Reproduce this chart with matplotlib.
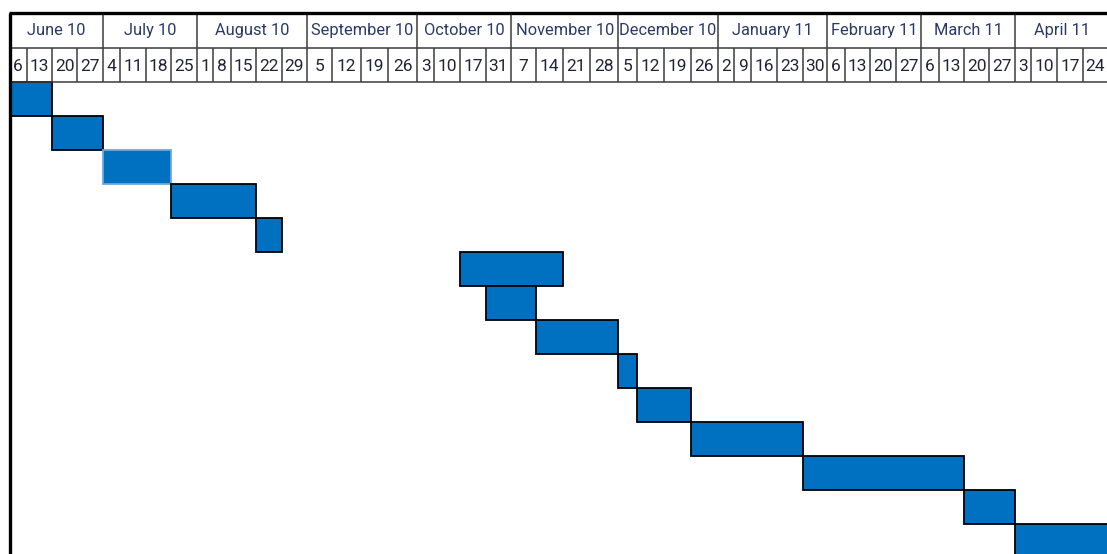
import matplotlib
matplotlib.use("Agg")
import matplotlib.pyplot as plt

# ---- data -------------------------------------------------------------
months = ["June 10", "July 10", "August 10", "September 10", "October 10",
          "November 10", "December 10", "January 11", "February 11",
          "March 11", "April 11"]
weeks_per_month = [4, 4, 5, 4, 4, 4, 4, 5, 4, 4, 4]

week_starts = [
    "2010-06-06", "2010-06-13", "2010-06-20", "2010-06-27",
    "2010-07-04", "2010-07-11", "2010-07-18", "2010-07-25",
    "2010-08-01", "2010-08-08", "2010-08-15", "2010-08-22", "2010-08-29",
    "2010-09-05", "2010-09-12", "2010-09-19", "2010-09-26",
    "2010-10-03", "2010-10-10", "2010-10-17", "2010-10-31",
    "2010-11-07", "2010-11-14", "2010-11-21", "2010-11-28",
    "2010-12-05", "2010-12-12", "2010-12-19", "2010-12-26",
    "2011-01-02", "2011-01-09", "2011-01-16", "2011-01-23", "2011-01-30",
    "2011-02-06", "2011-02-13", "2011-02-20", "2011-02-27",
    "2011-03-06", "2011-03-13", "2011-03-20", "2011-03-27",
    "2011-04-03", "2011-04-10", "2011-04-17", "2011-04-24",
]
week_labels = [str(int(d[-2:])) for d in week_starts]

task_first_week = ["2010-06-06", "2010-06-20", "2010-07-04", "2010-07-25",
                   "2010-08-22", "2010-10-17", "2010-10-31", "2010-11-14",
                   "2010-12-05", "2010-12-12", "2010-12-26", "2011-01-30",
                   "2011-03-20", "2011-04-03"]
task_last_week = ["2010-06-13", "2010-06-27", "2010-07-18", "2010-08-15",
                  "2010-08-22", "2010-11-14", "2010-11-07", "2010-11-28",
                  "2010-12-05", "2010-12-19", "2011-01-23", "2011-03-13",
                  "2011-03-27", "2011-04-24"]

# ---- sheet layout (column widths in pixels, like a spreadsheet) -------
col_widths = [17.2, 25, 25.6, 25.4, 17.3, 25.7, 25, 26, 16.6, 17.4, 25.3,
              25.7, 25, 25.6, 28.4, 27.6, 29, 17, 25.7, 25.7, 25.3, 25, 26.7,
              27.3, 28.3, 19, 26.7, 26.7, 27, 16.6, 16.7, 25.7, 26, 24.3, 17.7,
              25.6, 25.7, 25.3, 17.4, 25, 25.6, 26, 16, 25.7, 25.7, 25.4]
x_left = 9.5
edges = [x_left]
for w in col_widths:
    edges.append(edges[-1] + w)

W, H = 1107, 554
ROW_PX = 34.0
TOP_PX = 81.7

bar_color = "#0070C0"
grid_color = "#3c3c3c"
text_color = "#1f2636"
month_color = "#2a3a68"

plt.rcParams["font.family"] = ["Roboto", "DejaVu Sans"]

fig = plt.figure(figsize=(W / 100, H / 100), dpi=100)
ax = fig.add_axes([0, 0, 1, 1])
ax.set_xlim(0, W)
ax.set_ylim((H - TOP_PX) / ROW_PX, -TOP_PX / ROW_PX)
ax.axis("off")

# ---- task bars ----------------------------------------------------------
for row, (a, b) in enumerate(zip(task_first_week, task_last_week)):
    i0 = week_starts.index(a)
    i1 = week_starts.index(b)
    ec = "#6fa8dc" if row == 2 else "black"
    ax.barh(row, edges[i1 + 1] - edges[i0], left=edges[i0], height=1.0,
            align="edge", color=bar_color, edgecolor=ec, linewidth=1.3,
            zorder=2)

# ---- header grid ------------------------------------------------------
right = W + 5
top = -2.03
ax.hlines([-1, 0], x_left, right, color=grid_color, lw=1.1, zorder=3)
ax.hlines(top, x_left - 1, right, color="black", lw=2.4, zorder=4)
ax.vlines(x_left, top, (H - TOP_PX) / ROW_PX + 1, color="black", lw=2.4,
          zorder=4)

# week cells
for i, lab in enumerate(week_labels):
    ax.vlines(edges[i + 1], -1, 0, color=grid_color, lw=1.1, zorder=3)
    ax.text((edges[i] + edges[i + 1]) / 2, -0.45, lab, ha="center",
            va="center", fontsize=12.5, color=text_color, zorder=5)

# month cells
start = 0
for name, n in zip(months, weeks_per_month):
    end = start + n
    ax.vlines(edges[end], top, -1, color=grid_color, lw=1.1, zorder=3)
    ax.text((edges[start] + edges[end]) / 2, -1.5, name, ha="center",
            va="center", fontsize=11.8, color=month_color, zorder=5)
    start = end

fig.savefig("out.png", dpi=100)
